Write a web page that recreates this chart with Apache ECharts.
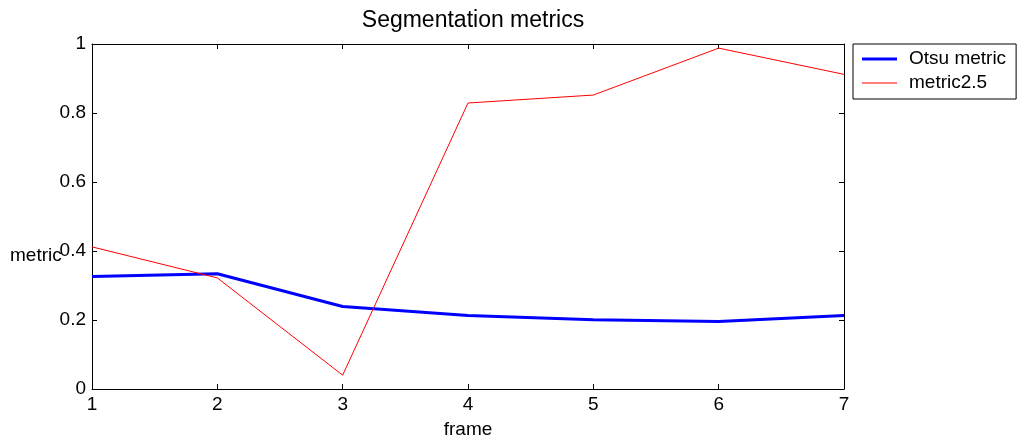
<!DOCTYPE html>
<html>
<head>
<meta charset="utf-8">
<script src="https://cdn.jsdelivr.net/npm/echarts@6/dist/echarts.min.js"></script>
<style>
html,body{margin:0;padding:0;background:#fff;}
#chart{width:1022px;height:444px;}
</style>
</head>
<body>
<div id="chart"></div>
<script>
const frames = [1, 2, 3, 4, 5, 6, 7];
const otsuMetric = [0.326, 0.334, 0.239, 0.213, 0.201, 0.196, 0.213];
const metric25 = [0.412, 0.322, 0.040, 0.829, 0.852, 0.988, 0.912];
const yTicks = [0, 0.2, 0.4, 0.6, 0.8, 1];

const FONT = '"Liberation Sans", Arial, sans-serif';
const chart = echarts.init(document.getElementById('chart'), null, {renderer: 'canvas'});

const axisCommon = {
  axisLine: {show: true, onZero: false, lineStyle: {color: '#000', width: 1}},
  axisTick: {show: true, inside: true, length: 5, lineStyle: {color: '#000', width: 1}},
  splitLine: {show: false}
};

chart.setOption({
  backgroundColor: '#fff',
  animation: false,
  title: {
    text: 'Segmentation metrics',
    left: 468, top: 4, textAlign: 'center',
    textStyle: {fontFamily: FONT, fontSize: 23, fontWeight: 'normal', color: '#000'}
  },
  legend: {
    orient: 'vertical',
    left: 853, top: 44,
    padding: [5, 10, 6, 9],
    borderColor: '#000', borderWidth: 1,
    itemWidth: 35, itemHeight: 14, itemGap: 4,
    symbolKeepAspect: true,
    textStyle: {fontFamily: FONT, fontSize: 19, color: '#000', lineHeight: 20, padding: [0, 0, 0, 7]},
    data: [
      {name: 'Otsu metric', icon: 'path://M0,0h35v3h-35z', itemStyle: {color: '#0000ff'}},
      {name: 'metric2.5', icon: 'path://M0,0h35v1h-35z', itemStyle: {color: '#ff0000'}}
    ]
  },
  graphic: [{
    type: 'text', left: 10, top: 246, silent: true,
    style: {text: 'metric', font: '19px ' + FONT, fill: '#000'}
  }],
  grid: {left: 92, right: 178, top: 44, bottom: 54, containLabel: false},
  xAxis: [
    Object.assign({}, axisCommon, {
      type: 'value', position: 'bottom', min: 1, max: 7, interval: 1,
      name: 'frame', nameLocation: 'middle', nameGap: 31,
      nameTextStyle: {fontFamily: FONT, fontSize: 19, color: '#000'},
      axisLabel: {fontFamily: FONT, fontSize: 19, color: '#000', margin: 6}
    }),
    Object.assign({}, axisCommon, {
      type: 'value', position: 'top', min: 1, max: 7, interval: 1,
      axisLabel: {show: false}
    })
  ],
  yAxis: [
    Object.assign({}, axisCommon, {
      type: 'value', position: 'left', min: 0, max: 1, interval: 0.2,
      axisLabel: {fontFamily: FONT, fontSize: 19, color: '#000', margin: 6,
        formatter: v => String(parseFloat(v.toFixed(1)))}
    }),
    Object.assign({}, axisCommon, {
      type: 'value', position: 'right', min: 0, max: 1, interval: 0.2,
      axisLabel: {show: false}
    })
  ],
  series: [
    {
      name: 'Otsu metric', type: 'line', xAxisIndex: 0, yAxisIndex: 0,
      data: frames.map((f, i) => [f, otsuMetric[i]]),
      symbol: 'none', color: '#0000ff',
      lineStyle: {color: '#0000ff', width: 3}
    },
    {
      name: 'metric2.5', type: 'line', xAxisIndex: 0, yAxisIndex: 0,
      data: frames.map((f, i) => [f, metric25[i]]),
      symbol: 'none', color: '#ff0000',
      lineStyle: {color: '#ff0000', width: 1}
    }
  ]
});
</script>
</body>
</html>
